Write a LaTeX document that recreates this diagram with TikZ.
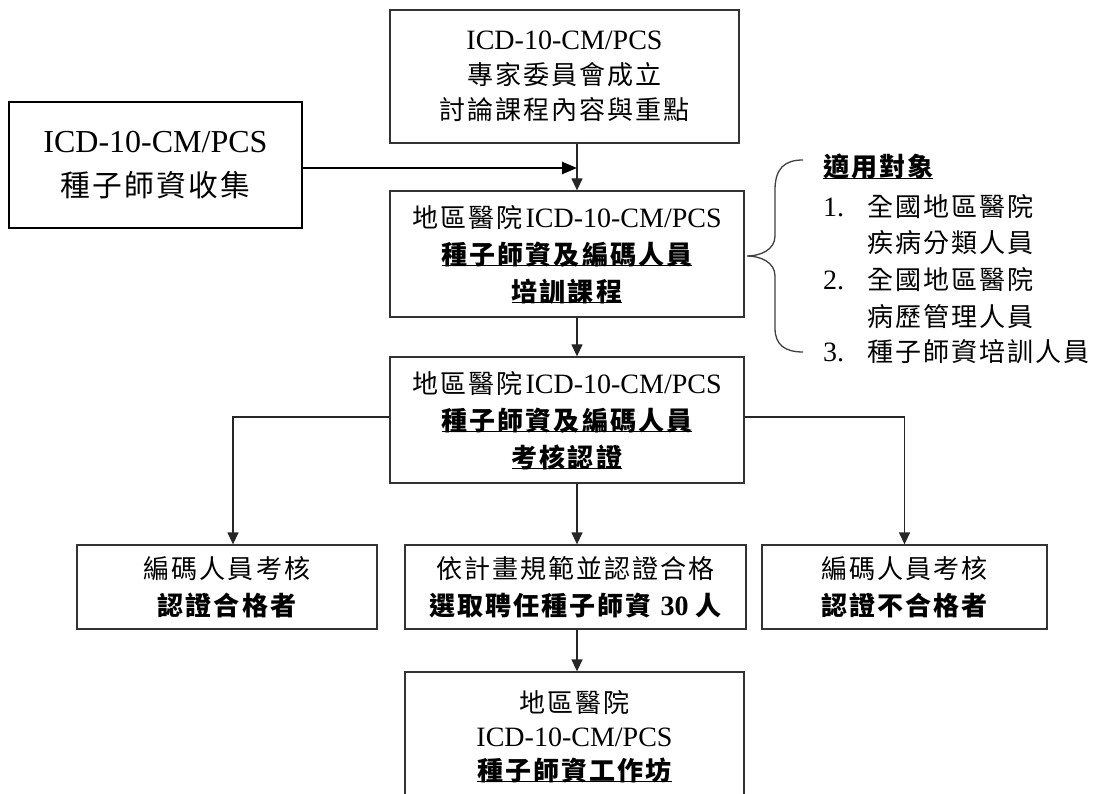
\documentclass[tikz,border=0pt]{standalone}
\usepackage{fontspec}
\setmainfont{Liberation Serif}
\newfontfamily\cjk[Scale=0.93,LetterSpace=7.7]{Noto Sans CJK TC}
\usetikzlibrary{arrows.meta}
\newcommand\C[1]{{\cjk #1}}
\newcommand\CB[1]{{\cjk\bfseries #1}}
\newcommand\ulx[1]{\underline{\smash{#1}}}
\begin{document}
\begin{tikzpicture}[x=1pt,y=-1pt,
  box/.style={draw=black!80, line width=1.3pt, align=center, inner sep=0pt, font=\fontsize{28}{37}\selectfont},
  arr/.style={-{Triangle[length=12pt,width=11pt]}, line width=1.3pt, draw=black!85},
  seedarr/.style={-{Triangle[length=15pt,width=12pt]}, line width=2.4pt, draw=black},
  listtxt/.style={anchor=base west, inner sep=0pt, font=\fontsize{28}{37}\selectfont},
  bracestyle/.style={draw=black!75, line width=1.3pt}
]
\useasboundingbox (0,0) rectangle (1093,794);
\clip (0,0) rectangle (1093,794);
\fill[white] (0,0) rectangle (1093,794);

\node[box, minimum width=349pt, minimum height=133pt, font=\fontsize{28}{35}\selectfont] (top) at (564.5,76.5)
  {ICD-10-CM/PCS\\ \C{專家委員會成立}\\ \C{討論課程內容與重點}};
\node[box, line width=2.5pt, draw=black, minimum width=293pt, minimum height=126pt, font=\fontsize{32}{44}\selectfont] (seed) at (155.5,165)
  {ICD-10-CM/PCS\\ \C{種子師資收集}};
\node[box, minimum width=354pt, minimum height=126pt] (train) at (567,254)
  {\C{地區醫院}\hspace{3pt}ICD-10-CM/PCS\\ \ulx{\CB{種子師資及編碼人員}}\\ \ulx{\CB{培訓課程}}};
\node[box, minimum width=354pt, minimum height=126pt] (exam) at (567,420)
  {\C{地區醫院}\hspace{3pt}ICD-10-CM/PCS\\ \ulx{\CB{種子師資及編碼人員}}\\ \ulx{\CB{考核認證}}};
\node[box, minimum width=300pt, minimum height=84pt] (pass) at (227,587)
  {\C{編碼人員考核}\\ \CB{認證合格者}};
\node[box, minimum width=341pt, minimum height=84pt] (select) at (575.5,587)
  {\C{依計畫規範並認證合格}\\ \CB{選取聘任種子師資} \textbf{30} \CB{人}};
\node[box, minimum width=285pt, minimum height=84pt] (fail) at (904.5,587)
  {\C{編碼人員考核}\\ \CB{認證不合格者}};
\node[box, minimum width=339pt, minimum height=128pt, font=\fontsize{28}{34}\selectfont] (work) at (574.5,736)
  {\C{地區醫院}\\ ICD-10-CM/PCS\\ \ulx{\CB{種子師資工作坊}}};

\coordinate (spine) at (577,0);
\draw[arr] (top.south -| spine) -- (train.north -| spine);
\draw[arr] (train.south -| spine) -- (exam.north -| spine);
\draw[arr] (exam.south -| spine) -- (select.north -| spine);
\draw[arr] (select.south -| spine) -- (work.north -| spine);
\draw[arr] ([yshift=3pt]exam.west) -| ([xshift=6pt]pass.north);
\draw[arr] ([yshift=3pt]exam.east) -| (fail.north);
\draw[seedarr] ([yshift=-3pt]seed.east) -- ([yshift=-3pt]seed.east -| spine);

\draw[bracestyle] (803,160) .. controls (785,160) and (775,168) .. (775,190) -- (775,236)
  .. controls (775,250) and (760,256) .. (747,256)
  .. controls (760,256) and (775,262) .. (775,276) -- (775,328)
  .. controls (775,345) and (785,352) .. (803,352);

\node[listtxt] (aud0) at (823,177) {\ulx{\CB{適用對象}}};
\node[listtxt] (aud1) at (823,217) {\makebox[44pt][l]{1.}\C{全國地區醫院}};
\node[listtxt] (aud2) at (867,253) {\C{疾病分類人員}};
\node[listtxt] (aud3) at (823,290) {\makebox[44pt][l]{2.}\C{全國地區醫院}};
\node[listtxt] (aud4) at (867,327) {\C{病歷管理人員}};
\node[listtxt] (aud5) at (823,362) {\makebox[44pt][l]{3.}\C{種子師資培訓人員}};
\end{tikzpicture}
\end{document}
